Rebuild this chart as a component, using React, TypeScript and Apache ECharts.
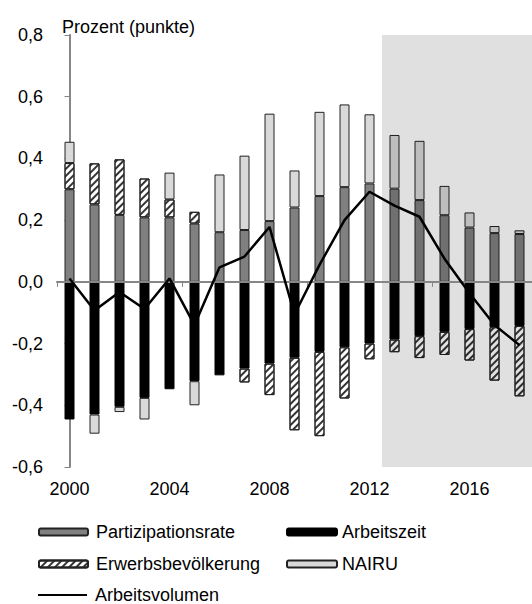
import React, { useEffect, useRef } from 'react';
import * as echarts from 'echarts';

const years = ['2000', '2001', '2002', '2003', '2004', '2005', '2006', '2007', '2008', '2009',
  '2010', '2011', '2012', '2013', '2014', '2015', '2016', '2017', '2018'];

const partizipationsrate = [0.30, 0.251, 0.217, 0.209, 0.209, 0.189, 0.161, 0.168, 0.197, 0.241,
  0.278, 0.307, 0.319, 0.302, 0.265, 0.216, 0.176, 0.158, 0.155];
const arbeitszeit = [-0.446, -0.43, -0.405, -0.376, -0.348, -0.322, -0.303, -0.281, -0.265, -0.246,
  -0.227, -0.212, -0.2, -0.187, -0.176, -0.162, -0.153, -0.147, -0.143];
const erwerbsbevoelkerung = [0.085, 0.133, 0.18, 0.126, 0.058, 0.038, null, -0.045, -0.102, -0.235,
  -0.273, -0.166, -0.051, -0.041, -0.071, -0.075, -0.102, -0.173, -0.228];
const nairu = [0.069, -0.062, -0.017, -0.07, 0.087, -0.078, 0.187, 0.241, 0.348, 0.12,
  0.273, 0.268, 0.224, 0.174, 0.192, 0.095, 0.049, 0.023, 0.012];
const arbeitsvolumen = [0.011, -0.093, -0.033, -0.088, 0.011, -0.14, 0.047, 0.082, 0.178, -0.105,
  0.055, 0.2, 0.292, 0.247, 0.211, 0.075, -0.037, -0.14, -0.205];

// forecast shading: from index 12.5 (between 2012 and 2013) to the end
const shadeRange = [12.5, 18.5];

const FONT = '"Liberation Sans", Arial, Helvetica, sans-serif';
const AXIS_GRAY = '#868686';

export default function App() {
  const ref = useRef<HTMLDivElement>(null);

  useEffect(() => {
    document.body.style.margin = '0';
    const chart = echarts.init(ref.current as HTMLDivElement, null, { renderer: 'svg' });

    const legendText = { fontSize: 18, color: '#000', fontFamily: FONT, lineHeight: 20 };
    const legendBase = {
      padding: 0,
      itemHeight: 7,
      selectedMode: false,
      textStyle: legendText,
    };

    const barCommon = {
      type: 'bar',
      stack: 'total',
      xAxisIndex: 0,
      barWidth: 10,
      z: 2,
    };

    chart.setOption({
      animation: false,
      backgroundColor: '#ffffff',
      textStyle: { fontFamily: FONT },
      title: {
        text: 'Prozent (punkte)',
        left: 62,
        top: 18,
        padding: 0,
        textStyle: { fontSize: 18, fontWeight: 'normal', color: '#000', fontFamily: FONT },
      },
      grid: { left: 57, top: 35, width: 478, height: 432, containLabel: false },
      xAxis: [
        {
          type: 'category',
          data: years,
          position: 'bottom',
          axisLine: { show: false, onZero: false },
          axisTick: { show: false },
          axisLabel: { interval: 3, fontSize: 18, color: '#000', margin: 13, fontFamily: FONT },
          splitLine: { show: false },
        },
        {
          type: 'category',
          data: years,
          position: 'bottom',
          z: 5,
          axisLine: { show: true, onZero: true, lineStyle: { color: AXIS_GRAY, width: 2 } },
          axisTick: {
            show: true,
            interval: (i: number) => i % 5 === 0,
            length: 5,
            lineStyle: { color: AXIS_GRAY, width: 1 },
          },
          axisLabel: { show: false },
          splitLine: { show: false },
        },
        { type: 'value', min: -0.5, max: 18.5, show: false },
      ],
      yAxis: {
        type: 'value',
        min: -0.6,
        max: 0.8,
        interval: 0.2,
        axisLine: { show: true, lineStyle: { color: AXIS_GRAY, width: 2 } },
        axisTick: { show: true, length: 5, lineStyle: { color: AXIS_GRAY, width: 1 } },
        axisLabel: {
          fontSize: 18,
          color: '#000',
          margin: 14,
          fontFamily: FONT,
          formatter: (v: number) => (Math.abs(v) < 1e-9 ? '0,0' : v.toFixed(1).replace('.', ',')),
        },
        splitLine: { show: false },
      },
      legend: [
        { ...legendBase, data: ['Partizipationsrate'], left: 38, top: 522, itemWidth: 49,
          textStyle: { ...legendText, padding: [0, 0, 0, 3] } },
        { ...legendBase, data: ['Arbeitszeit'], left: 286, top: 522, itemWidth: 50 },
        { ...legendBase, data: ['Erwerbsbevölkerung'], left: 38, top: 554, itemWidth: 49,
          textStyle: { ...legendText, padding: [0, 0, 0, 3] } },
        { ...legendBase, data: ['NAIRU'], left: 286, top: 554, itemWidth: 50 },
        { ...legendBase, data: [{ name: 'Arbeitsvolumen', icon: 'rect' }], left: 38, top: 585,
          itemWidth: 49, itemHeight: 2,
          textStyle: { ...legendText, padding: [0, 0, 0, 3] } },
      ],
      series: [
        {
          ...barCommon,
          name: 'Partizipationsrate',
          data: partizipationsrate,
          itemStyle: { color: '#808080', borderColor: '#222', borderWidth: 1 },
        },
        {
          ...barCommon,
          name: 'Arbeitszeit',
          data: arbeitszeit,
          itemStyle: { color: '#000', borderColor: '#000', borderWidth: 1 },
        },
        {
          ...barCommon,
          name: 'Erwerbsbevölkerung',
          data: erwerbsbevoelkerung,
          itemStyle: {
            color: '#ffffff',
            borderColor: '#222',
            borderWidth: 1,
            decal: {
              symbol: 'rect',
              symbolSize: 1,
              dashArrayX: [1, 0],
              dashArrayY: [1.2, 2.4],
              rotation: -Math.PI / 4,
              color: '#333',
            },
          },
        },
        {
          ...barCommon,
          name: 'NAIRU',
          data: nairu,
          itemStyle: { color: '#d9d9d9', borderColor: '#222', borderWidth: 1 },
        },
        {
          name: 'Arbeitsvolumen',
          type: 'line',
          xAxisIndex: 0,
          data: arbeitsvolumen,
          symbol: 'none',
          showSymbol: false,
          z: 6,
          lineStyle: { color: '#000', width: 2.5 },
          itemStyle: { color: '#000' },
        },
        {
          name: 'shade',
          type: 'line',
          xAxisIndex: 2,
          data: [[0, 0]],
          symbol: 'none',
          silent: true,
          z: 4,
          lineStyle: { width: 0, opacity: 0 },
          markArea: {
            silent: true,
            z: 4,
            itemStyle: { color: 'rgba(0,0,0,0.12)' },
            data: [[{ xAxis: shadeRange[0] }, { xAxis: shadeRange[1] }]],
          },
        },
      ],
    });

    return () => chart.dispose();
  }, []);

  return <div ref={ref} style={{ width: 532, height: 604 }} />;
}
